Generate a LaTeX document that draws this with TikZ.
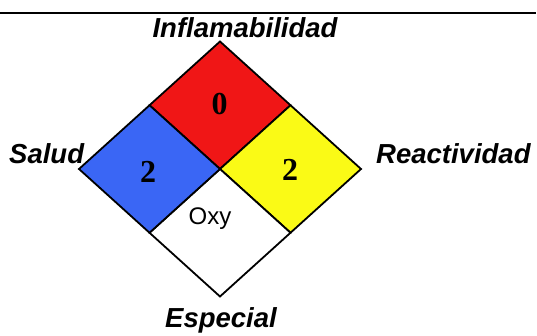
\documentclass[tikz,border=0pt]{standalone}
\usepackage{fontspec}
\setmainfont{Liberation Serif}
\setsansfont{Liberation Sans}
\usetikzlibrary{positioning}
\definecolor{HzRed}{RGB}{240,22,22}
\definecolor{HzBlue}{RGB}{58,102,245}
\definecolor{HzYellow}{RGB}{250,250,22}
\tikzset{
	cell/.style={draw=black, line width=1.8pt, line join=miter},
	lbl/.style={font=\sffamily\bfseries\itshape\fontsize{27.5}{27.5}\selectfont, inner sep=0pt},
	num/.style={font=\rmfamily\bfseries\fontsize{32}{32}\selectfont, inner sep=0pt},
	oxy/.style={font=\sffamily\fontsize{24}{24}\selectfont, inner sep=0pt},
	rule/.style={draw=black, line width=1.3pt}
}

\begin{document}
\begin{tikzpicture}[x=1pt, y=-1pt]
		\useasboundingbox (0,0) rectangle (537,335);
		% corners of the diamond
		\coordinate (T) at (220,41.5);
		\coordinate (R) at (361,169);
		\coordinate (B) at (220,296.5);
		\coordinate (L) at (79,169);
		\coordinate (C) at (220,169);
		\coordinate (TR) at (290.5,105.25);
		\coordinate (RB) at (290.5,232.75);
		\coordinate (BL) at (149.5,232.75);
		\coordinate (LT) at (149.5,105.25);
		% rule on top
		\coordinate (ruleL) at (0,13);
		\coordinate (ruleR) at (536,13);
		\draw[rule] (ruleL) -- (ruleR);
		% the four cells
		\filldraw[cell, fill=HzRed] (T) -- (TR) -- (C) -- (LT) -- cycle;
		\filldraw[cell, fill=HzYellow] (TR) -- (R) -- (RB) -- (C) -- cycle;
		\filldraw[cell, fill=white] (C) -- (RB) -- (B) -- (BL) -- cycle;
		\filldraw[cell, fill=HzBlue] (LT) -- (C) -- (BL) -- (L) -- cycle;
		% values
		\node[num] (fire) at (219.5,104) {0};
		\node[num] (health) at (148,172) {2};
		\node[num] (react) at (290,170) {2};
		\node[oxy] (spec) at (210,219) {Oxy};
		% labels
		\node[lbl, anchor=base] (fireLbl) at (245,37) {Inflamabilidad};
		\node[lbl, anchor=base west] (healthLbl) at (9,163) {Salud};
		\node[lbl, anchor=base west] (reactLbl) at (376,163) {Reactividad};
		\node[lbl, anchor=base] (specLbl) at (221,327) {Especial};
	\end{tikzpicture}
\end{document}
